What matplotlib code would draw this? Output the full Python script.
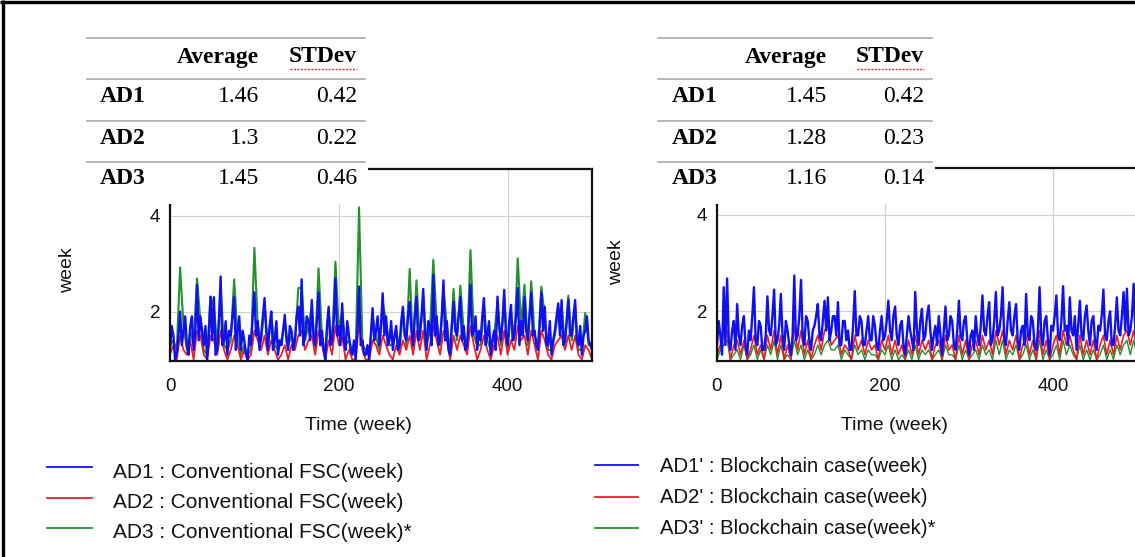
import numpy as np
import matplotlib
matplotlib.use("Agg")
import matplotlib.pyplot as plt
from matplotlib.patches import Rectangle

# ---------------- data ----------------
# AD1 series: one value every 2 weeks; AD2/AD3 series: one value every 4 weeks
STEP_AD1 = 2
STEP_OTHER = 4

conv_ad1 = [1.2, 1.7, 1.5, 1.0, 1.1, 1.5, 2.0, 1.3, 1.6, 1.9,
            1.3, 1.1, 1.7, 1.9, 1.2, 1.6, 2.55, 1.4, 1.9, 1.6,
            1.3, 1.7, 1.0, 1.5, 2.31, 1.4, 2.3, 1.1, 1.2, 1.8,
            2.73, 1.3, 1.4, 1.8, 1.1, 1.6, 1.5, 1.9, 2.3, 1.2,
            1.6, 1.9, 1.2, 1.6, 1.4, 1.1, 1.0, 1.5, 1.3, 1.9,
            2.4, 1.5, 1.8, 1.2, 1.5, 1.9, 2.28, 1.6, 1.2, 1.7,
            2.0, 1.2, 1.4, 1.8, 1.1, 1.4, 1.3, 1.6, 1.93, 1.4,
            1.2, 1.7, 1.6, 1.2, 1.4, 1.9, 2.1, 1.5, 2.67, 1.3,
            1.5, 1.9, 1.8, 1.4, 2.24, 1.5, 1.3, 1.8, 2.4, 1.3,
            1.6, 1.2, 1.0, 1.7, 2.1, 1.3, 1.4, 1.8, 2.69, 1.5,
            1.7, 1.3, 2.17, 1.4, 1.2, 1.8, 1.5, 1.2, 1.1, 1.4,
            1.0, 1.6, 2.52, 1.3, 1.4, 1.1, 1.1, 1.3, 1.0, 1.5,
            2.07, 1.4, 1.6, 1.9, 1.3, 1.7, 2.38, 1.5, 1.9, 1.3,
            1.4, 1.8, 1.2, 1.5, 1.7, 1.2, 1.3, 1.8, 2.1, 1.5,
            1.4, 1.9, 2.2, 1.6, 1.3, 1.9, 2.3, 1.4, 1.5, 1.9,
            2.47, 1.6, 1.2, 1.8, 1.7, 1.3, 2.76, 1.5, 1.9, 1.3,
            1.4, 1.9, 2.65, 1.4, 1.8, 1.2, 1.1, 1.7, 2.2, 1.6,
            1.5, 1.9, 2.3, 1.4, 1.7, 1.2, 1.3, 1.8, 2.56, 1.5,
            1.6, 1.9, 1.2, 1.6, 1.4, 1.9, 2.28, 1.3, 1.5, 1.8,
            1.1, 1.4, 1.6, 1.2, 2.31, 1.7, 1.4, 1.8, 2.45, 1.5,
            1.3, 1.8, 2.14, 1.4, 1.5, 1.9, 2.49, 1.3, 1.8, 1.5,
            2.3, 1.6, 1.4, 1.9, 2.4, 1.5, 1.6, 1.3, 1.2, 1.7,
            2.4, 1.6, 2.1, 1.3, 1.3, 1.8, 1.1, 1.4, 1.6, 1.9,
            2.17, 1.5, 2.24, 1.3, 1.4, 1.8, 2.25, 1.5, 1.5, 1.9,
            2.24, 1.4, 1.3, 1.7, 1.1, 1.5, 1.6, 1.9, 1.4, 1.3,
            1.2]

conv_ad2 = [1.1, 1.3, 1.0, 1.5, 1.2, 1.1, 1.4, 1.0, 1.6, 1.5,
            1.1, 1.0, 1.5, 1.4, 1.1, 1.6, 1.2, 1.0, 1.2, 1.5,
            1.3, 1.0, 1.2, 1.0, 1.1, 1.6, 1.4, 1.2, 1.5, 1.1,
            1.4, 1.2, 1.0, 1.1, 1.3, 1.0, 1.3, 1.2, 1.5, 1.6,
            1.2, 1.4, 1.5, 1.1, 1.6, 1.3, 1.0, 1.4, 1.1, 1.7,
            1.3, 1.5, 1.0, 1.2, 1.0, 1.0, 1.8, 1.2, 1.0, 1.0,
            1.4, 1.3, 1.1, 1.5, 1.3, 1.1, 1.0, 1.3, 1.1, 1.4,
            1.2, 1.5, 1.1, 1.6, 1.2, 1.6, 1.0, 1.3, 1.7, 1.4,
            1.1, 1.6, 1.4, 1.0, 1.5, 1.2, 1.5, 1.3, 1.1, 1.7,
            1.3, 1.0, 1.2, 1.5, 1.2, 1.0, 1.3, 1.5, 1.1, 1.6,
            1.1, 1.4, 1.2, 1.7, 1.4, 1.5, 1.1, 1.6, 1.3, 1.0,
            1.6, 1.4, 1.1, 1.0, 1.3, 1.4, 1.5, 1.2, 1.5, 1.2,
            1.5, 1.1, 1.0, 1.3, 1.2, 1.0]

conv_ad3 = [1.3, 1.4, 1.2, 2.92, 1.7, 1.2, 1.6, 1.3, 2.69, 1.8,
            1.2, 1.1, 2.31, 2.1, 1.3, 2.5, 1.3, 1.2, 1.4, 2.67,
            1.5, 1.1, 1.3, 1.1, 1.2, 3.33, 1.7, 1.4, 2.1, 1.3,
            1.9, 1.3, 1.2, 1.4, 1.8, 1.3, 1.5, 1.3, 2.49, 2.5,
            1.4, 1.7, 2.1, 1.2, 2.9, 1.5, 1.1, 2.0, 1.3, 3.04,
            1.6, 2.0, 1.3, 1.4, 1.2, 1.1, 4.17, 1.3, 1.2, 1.1,
            1.9, 1.5, 1.2, 2.2, 1.8, 1.3, 1.3, 1.6, 1.2, 2.0,
            1.3, 2.89, 1.2, 2.65, 1.4, 2.3, 1.3, 1.6, 3.08, 1.8,
            1.3, 2.5, 1.7, 1.2, 2.47, 1.4, 2.54, 1.6, 1.2, 3.28,
            1.5, 1.3, 1.3, 2.1, 1.4, 1.2, 1.5, 2.2, 1.3, 2.3,
            1.2, 2.0, 1.4, 3.11, 1.7, 2.56, 1.3, 2.63, 1.5, 1.3,
            2.52, 1.9, 1.2, 1.2, 1.5, 2.0, 2.1, 1.3, 2.33, 1.4,
            2.1, 1.2, 1.2, 1.97, 1.3, 1.3]

bc_ad1 = [1.3, 1.8, 1.5, 1.1, 2.5, 1.3, 2.68, 1.4, 1.2, 1.6,
          1.8, 1.2, 2.15, 1.5, 1.3, 1.7, 1.9, 1.3, 1.1, 1.6,
          1.4, 1.9, 2.5, 1.4, 1.3, 1.8, 1.7, 1.2, 1.2, 1.5,
          2.31, 1.6, 1.5, 1.9, 2.45, 1.3, 1.4, 1.7, 2.36, 1.5,
          1.2, 1.8, 1.6, 1.3, 1.1, 1.5, 2.74, 1.4, 1.5, 1.9,
          2.65, 1.5, 1.3, 1.9, 1.8, 1.4, 1.2, 1.6, 1.7, 1.9,
          2.15, 1.5, 1.4, 1.8, 2.22, 1.6, 2.29, 1.4, 1.6, 1.9,
          1.9, 1.5, 2.19, 1.3, 1.3, 1.8, 1.8, 1.4, 1.6, 1.2,
          1.2, 1.7, 2.42, 1.5, 1.5, 1.9, 1.8, 1.3, 1.3, 1.6,
          1.9, 1.4, 1.4, 1.9, 1.7, 1.3, 1.2, 1.6, 1.9, 1.4,
          1.5, 1.8, 2.22, 1.6, 1.4, 1.9, 2.1, 1.5, 1.3, 1.7,
          1.8, 1.3, 1.1, 1.5, 1.9, 1.6, 1.4, 1.2, 2.4, 1.6,
          1.3, 1.8, 2.05, 1.4, 1.5, 1.9, 2.12, 1.6, 1.2, 1.5,
          1.7, 1.3, 1.9, 1.5, 1.1, 1.6, 2.1, 1.4, 1.5, 1.9,
          1.8, 1.3, 1.2, 1.6, 2.22, 1.5, 1.4, 1.8, 1.9, 1.4,
          1.1, 1.5, 1.6, 1.2, 1.9, 1.5, 1.3, 1.7, 2.33, 1.6,
          1.5, 1.9, 2.19, 1.3, 1.4, 1.8, 2.4, 1.5, 1.6, 1.9,
          2.5, 1.4, 1.3, 1.8, 2.19, 1.6, 1.5, 1.9, 2.15, 1.4,
          1.2, 1.6, 1.7, 1.3, 2.36, 1.5, 1.4, 1.9, 1.8, 1.3,
          1.2, 1.6, 2.5, 1.5, 1.3, 1.8, 1.9, 1.4, 1.1, 1.7,
          1.6, 1.9, 2.33, 1.5, 1.4, 1.8, 2.52, 1.6, 1.7, 1.3,
          2.29, 1.6, 1.5, 1.9, 1.2, 1.7, 2.22, 1.5, 1.4, 1.9,
          2.12, 1.6, 1.3, 1.8, 1.9, 1.4, 1.2, 1.7, 1.6, 1.9,
          2.45, 1.5, 1.4, 1.8, 2.0, 1.3, 1.3, 1.7, 2.29, 1.6,
          1.5, 1.9, 2.4, 1.6, 2.47, 1.5, 1.6, 1.9, 2.57, 1.6,
          1.4]

bc_ad2 = [1.1, 1.3, 1.5, 1.6, 1.0, 1.3, 1.4, 1.1, 1.4, 1.0,
          1.2, 1.5, 1.1, 1.3, 1.0, 1.5, 1.2, 1.6, 1.1, 1.5,
          1.0, 1.3, 1.0, 1.7, 1.2, 1.6, 1.1, 1.4, 1.0, 1.3,
          1.5, 1.2, 1.6, 1.7, 1.3, 1.4, 1.5, 1.1, 1.3, 1.2,
          1.0, 1.5, 1.2, 1.4, 1.1, 1.4, 1.2, 1.3, 1.0, 1.4,
          1.2, 1.5, 1.1, 1.4, 1.1, 1.3, 1.0, 1.4, 1.1, 1.5,
          1.1, 1.4, 1.2, 1.4, 1.0, 1.3, 1.4, 1.0, 1.5, 1.2,
          1.3, 1.0, 1.5, 1.1, 1.4, 1.0, 1.3, 1.4, 1.1, 1.5,
          1.2, 1.4, 1.1, 1.6, 1.3, 1.6, 1.1, 1.4, 1.2, 1.5,
          1.0, 1.3, 1.5, 1.1, 1.4, 1.0, 1.6, 1.1, 1.4, 1.0,
          1.3, 1.5, 1.1, 1.6, 1.3, 1.5, 1.2, 1.0, 1.5, 1.1,
          1.4, 1.1, 1.4, 1.0, 1.3, 1.5, 1.1, 1.4, 1.1, 1.5,
          1.2, 1.5, 1.6, 1.3, 1.6, 1.2]

bc_ad3 = [1.0, 1.2, 1.3, 1.4, 1.0, 1.1, 1.2, 1.0, 1.3, 1.0,
          1.1, 1.3, 1.0, 1.2, 1.0, 1.3, 1.1, 1.4, 1.0, 1.3,
          1.0, 1.1, 1.0, 1.4, 1.1, 1.3, 1.0, 1.2, 1.0, 1.1,
          1.3, 1.1, 1.3, 1.4, 1.2, 1.2, 1.3, 1.0, 1.2, 1.1,
          1.0, 1.3, 1.1, 1.2, 1.0, 1.2, 1.1, 1.1, 1.0, 1.2,
          1.1, 1.3, 1.0, 1.2, 1.0, 1.1, 1.0, 1.2, 1.0, 1.3,
          1.0, 1.2, 1.1, 1.2, 1.0, 1.1, 1.2, 1.0, 1.3, 1.1,
          1.1, 1.0, 1.3, 1.0, 1.2, 1.0, 1.1, 1.2, 1.0, 1.3,
          1.1, 1.2, 1.0, 1.4, 1.1, 1.4, 1.0, 1.2, 1.1, 1.3,
          1.0, 1.1, 1.3, 1.0, 1.2, 1.0, 1.4, 1.0, 1.2, 1.0,
          1.1, 1.3, 1.0, 1.4, 1.1, 1.3, 1.1, 1.0, 1.3, 1.0,
          1.2, 1.0, 1.2, 1.0, 1.1, 1.3, 1.0, 1.2, 1.0, 1.3,
          1.1, 1.3, 1.4, 1.1, 1.4, 1.1]

TABLE_HEADERS = ["Average", "STDev"]
TABLE_ROWS = ["AD1", "AD2", "AD3"]
conv_avg = [1.46, 1.3, 1.45]
conv_std = [0.42, 0.22, 0.46]
bc_avg = [1.45, 1.28, 1.16]
bc_std = [0.42, 0.23, 0.14]

conv_labels = ["AD1 : Conventional FSC(week)",
               "AD2 : Conventional FSC(week)",
               "AD3 : Conventional FSC(week)*"]
bc_labels = ["AD1' : Blockchain case(week)",
             "AD2' : Blockchain case(week)",
             "AD3' : Blockchain case(week)*"]

x_ticks = [0, 200, 400]
y_ticks = [2, 4]
x_label = "Time (week)"
y_label = "week"

# ---------------- styling ----------------
BLUE, RED, GREEN = "#1010f0", "#e8202a", "#23922a"
SANS = ["Liberation Sans", "DejaVu Sans"]
SERIF = ["Liberation Serif", "DejaVu Serif"]
plt.rcParams["font.family"] = SANS

W, H = 1135, 557
fig = plt.figure(figsize=(W / 100, H / 100), dpi=100)


def px_axes(x0, y0, x1, y1, **kw):
    return fig.add_axes([x0 / W, 1 - y1 / H, (x1 - x0) / W, (y1 - y0) / H], **kw)


def draw_panel(box, series):
    ax = px_axes(*box, zorder=1)
    for vals, step, col, lw in series:
        weeks = np.arange(len(vals)) * step
        ax.plot(weeks, vals, color=col, lw=lw)
    ax.set_xlim(0, 500)
    ax.set_ylim(0.97, 4.97)
    ax.set_xticks(x_ticks)
    ax.set_yticks(y_ticks)
    ax.grid(True, color="#d2d2d2", lw=0.9)
    ax.set_axisbelow(True)
    ax.tick_params(length=0, labelsize=13.5, colors="#111111")
    ax.tick_params(axis="x", pad=12)
    ax.tick_params(axis="y", pad=7)
    for s in ax.spines.values():
        s.set_linewidth(1.6)
        s.set_color("#111111")
    return ax


draw_panel((170, 169, 592, 361),
           [(conv_ad3, STEP_OTHER, GREEN, 1.5),
            (conv_ad2, STEP_OTHER, RED, 1.3),
            (conv_ad1, STEP_AD1, BLUE, 1.7)])
draw_panel((717, 168, 1137, 361),
           [(bc_ad3, STEP_OTHER, GREEN, 1.0),
            (bc_ad2, STEP_OTHER, RED, 1.2),
            (bc_ad1, STEP_AD1, BLUE, 1.7)])

# overlay in pixel coordinates for tables, labels, legends, border
ov = fig.add_axes([0, 0, 1, 1], zorder=5)
ov.set_xlim(0, W)
ov.set_ylim(H, 0)
ov.axis("off")
ov.patch.set_alpha(0)

TFS = 17


def draw_table(x0, x1, avg_right, std_right, label_left, avgs, stds):
    ov.add_patch(Rectangle((x0 - 6, 24), x1 - x0 + 9, 180, facecolor="white", edgecolor="none"))
    for y in (38, 79, 121, 162):
        ov.plot([x0, x1], [y, y], color="#a0a0a0", lw=1.1)
    ov.text(avg_right, 57, TABLE_HEADERS[0], ha="right", va="center", family=SERIF,
            weight="bold", fontsize=TFS)
    ov.text(std_right, 57, TABLE_HEADERS[1], ha="right", va="center", family=SERIF,
            weight="bold", fontsize=TFS)
    ov.plot([std_right - 67, std_right], [69, 69], color="#e03030", lw=1.0, ls=(0, (1.5, 1)))
    for i, (lab, a, s) in enumerate(zip(TABLE_ROWS, avgs, stds)):
        y = 97 + i * 41
        ov.text(label_left, y, lab, ha="left", va="center", family=SERIF, weight="bold", fontsize=TFS)
        ov.text(avg_right, y, f"{a:g}", ha="right", va="center", family=SERIF, fontsize=TFS)
        ov.text(std_right, y, f"{s:g}", ha="right", va="center", family=SERIF, fontsize=TFS)


draw_table(87, 365, 259, 357, 100, conv_avg, conv_std)
draw_table(658, 932, 827, 924, 672, bc_avg, bc_std)

# axis labels
ov.text(358, 425, x_label, ha="center", va="center", fontsize=14, color="#111111")
ov.text(894, 425, x_label, ha="center", va="center", fontsize=14, color="#111111")
ov.text(68, 270, y_label, ha="center", va="center", rotation=90, fontsize=14, color="#111111")
ov.text(617, 262, y_label, ha="center", va="center", rotation=90, fontsize=14, color="#111111")

# legends
colors = [BLUE, RED, GREEN]
for i, (lab, col) in enumerate(zip(conv_labels, colors)):
    yl = 467 + i * 30.5
    ov.plot([47, 92], [yl, yl], color=col, lw=1.3)
    ov.text(113, yl + 5, lab, ha="left", va="center", fontsize=15, color="#111111")
for i, (lab, col) in enumerate(zip(bc_labels, colors)):
    yl = 465 + i * 31.5
    ov.plot([595, 638], [yl, yl], color=col, lw=1.3)
    ov.text(660, yl + 1, lab, ha="left", va="center", fontsize=14.6, color="#111111")

# outer frame (left and top edges)
ov.plot([3, 3], [0, H], color="black", lw=2.4, solid_capstyle="butt")
ov.plot([0, W], [1.5, 1.5], color="black", lw=2.4, solid_capstyle="butt")

fig.savefig("out.png", dpi=100)
